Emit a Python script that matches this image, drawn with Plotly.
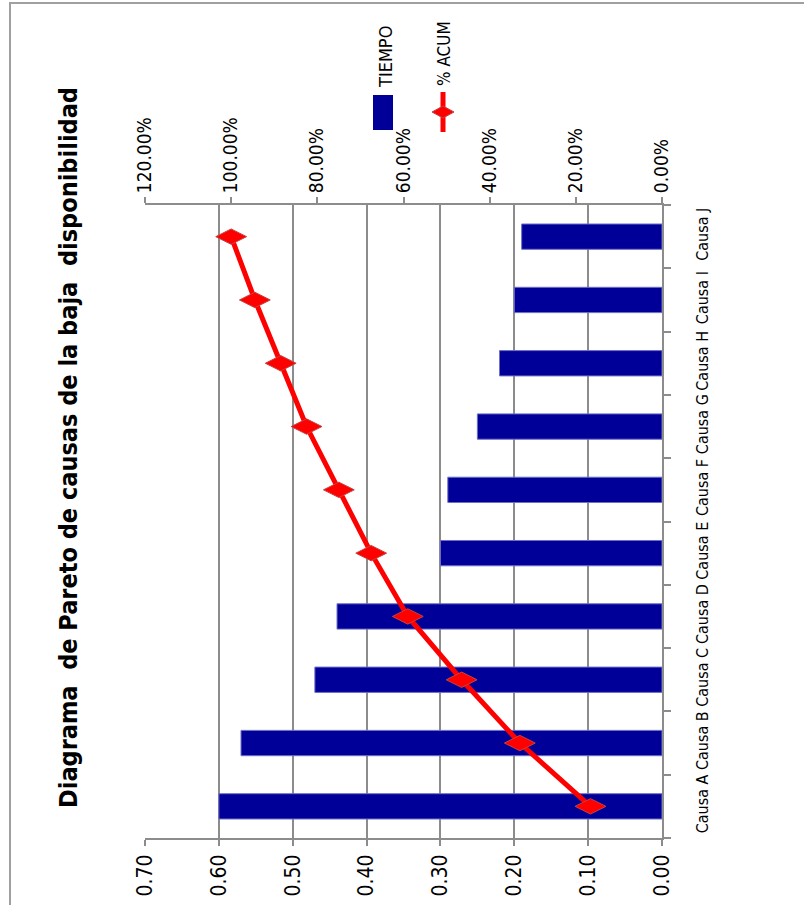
import plotly.graph_objects as go

categorias = ["Causa A", "Causa B", "Causa C", "Causa D", "Causa E",
              "Causa F", "Causa G", "Causa H", "Causa I", "Causa J"]
tiempo = [0.60, 0.57, 0.47, 0.44, 0.30, 0.29, 0.25, 0.22, 0.20, 0.19]
acum = [0.166, 0.33, 0.465, 0.59, 0.675, 0.75, 0.825, 0.885, 0.945, 1.0]

# tick labels as printed in the source chart
cat_labels = ["Causa A", "Causa B", "Causa C", "Causa D", "Causa E",
              "Causa F", "Causa G", "Causa H", "Causa I", "Causa J"]

titulo = "Diagrama&nbsp; de Pareto de causas de la baja&nbsp; disponibilidad"
serie_barras = "TIEMPO"
serie_linea = "% ACUM"

FONT = "DejaVu Sans Condensed, Roboto, sans-serif"
GRID = "#8c8c8c"

fig = go.Figure()
fig.add_trace(go.Bar(
    x=tiempo, y=categorias, orientation="h", name=serie_barras,
    marker=dict(color="#000099", line=dict(color="#6f6fc8", width=1)),
    xaxis="x", yaxis="y", showlegend=False,
))
fig.add_trace(go.Scatter(
    x=acum, y=categorias, mode="lines+markers", name=serie_linea,
    line=dict(color="#ff0000", width=5),
    marker=dict(symbol="diamond-wide", size=22, color="#ff0000",
                line=dict(color="#c84040", width=1)),
    xaxis="x2", yaxis="y", showlegend=False,
))

# Plot area: x 145..662 px, y 205..838 px
L, R, T, B = 145, 804 - 662, 205, 905 - 838
PW, PH = 804 - L - R, 905 - T - B

def px(xp):
    return (xp - L) / PW

def py(yp):
    return (905 - B - yp) / PH

shapes = [
    # outer frame (only top/left visible)
    dict(type="rect", xref="paper", yref="paper",
         x0=px(10), x1=px(900), y0=py(1000), y1=py(3),
         line=dict(color="#a0a0a0", width=2), fillcolor="rgba(0,0,0,0)", layer="below"),
    # legend: bar swatch
    dict(type="rect", xref="paper", yref="paper",
         x0=px(373), x1=px(393), y0=py(130), y1=py(95),
         line=dict(width=0), fillcolor="#000099"),
    # legend: line swatch
    dict(type="line", xref="paper", yref="paper",
         x0=px(443), x1=px(443), y0=py(132), y1=py(92),
         line=dict(color="#ff0000", width=5)),
    dict(type="path", xref="paper", yref="paper",
         path="M {a},{b} L {c},{d} L {e},{b} L {c},{f} Z".format(
             a=px(432), b=py(112), c=px(443), d=py(106), e=px(454), f=py(118)),
         line=dict(color="#c84040", width=1), fillcolor="#ff0000"),
]

annotations = [
    dict(text="<b>" + titulo + "</b>", xref="paper", yref="paper",
         x=px(68), y=py(448), xanchor="center", yanchor="middle",
         textangle=-90, showarrow=False,
         font=dict(family=FONT, size=25, color="black")),
    dict(text=serie_barras, xref="paper", yref="paper",
         x=px(385), y=py(57), xanchor="center", yanchor="middle",
         textangle=-90, showarrow=False,
         font=dict(family=FONT, size=18, color="black")),
    dict(text=serie_linea, xref="paper", yref="paper",
         x=px(444), y=py(54), xanchor="center", yanchor="middle",
         textangle=-90, showarrow=False,
         font=dict(family=FONT, size=17, color="black")),
]

fig.update_layout(
    width=804, height=905,
    margin=dict(l=L, r=R, t=T, b=B, pad=0, autoexpand=False),
    paper_bgcolor="white", plot_bgcolor="white",
    bargap=0.6,
    font=dict(family=FONT, color="black"),
    shapes=shapes, annotations=annotations,
    xaxis=dict(
        range=[0.7, 0], tickmode="linear", tick0=0, dtick=0.1, tickformat=".2f",
        tickangle=-90, side="bottom", showline=True, linecolor=GRID, linewidth=2,
        ticks="outside", ticklen=6, tickcolor=GRID, tickwidth=2,
        showgrid=True, gridcolor=GRID, gridwidth=2, zeroline=False,
        automargin=False,
        tickfont=dict(family=FONT, size=21, color="black"), fixedrange=True,
    ),
    xaxis2=dict(
        range=[1.2, 0], overlaying="x", side="top", anchor="y",
        tickmode="linear", tick0=0, dtick=0.2, tickformat=".2%",
        tickangle=-90, showline=True, linecolor=GRID, linewidth=2,
        ticks="outside", ticklen=6, tickcolor=GRID, tickwidth=2,
        showgrid=False, zeroline=False, automargin=False,
        tickfont=dict(family=FONT, size=19, color="black"), fixedrange=True,
    ),
    yaxis=dict(
        type="category", categoryorder="array", categoryarray=categorias,
        range=[-0.5, len(categorias) - 0.5],
        tickvals=categorias, ticktext=cat_labels,
        side="right", tickangle=-90, tickson="boundaries",
        showline=True, linecolor=GRID, linewidth=2,
        ticks="outside", ticklen=7, tickcolor=GRID, tickwidth=2,
        ticklabelstandoff=25,
        showgrid=False, zeroline=False, automargin=False,
        tickfont=dict(family=FONT, size=16, color="black"), fixedrange=True,
    ),
)

fig.write_html("out.html")
